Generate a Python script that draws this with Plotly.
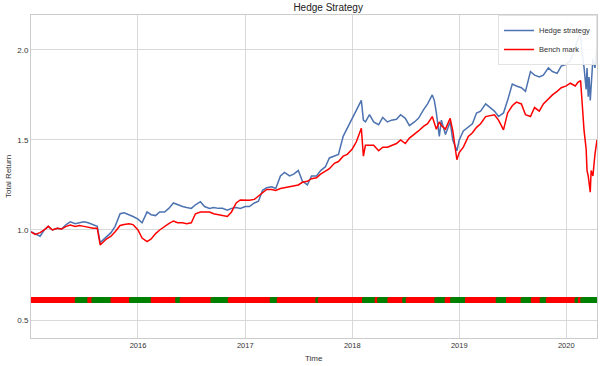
import pandas as pd
import plotly.graph_objects as go

# ---- data ----
hedge_dates = [
    "2015-01-01","2015-01-15","2015-02-01","2015-02-15","2015-03-01","2015-03-15","2015-04-01","2015-04-15",
    "2015-05-01","2015-05-15","2015-06-01","2015-06-15","2015-07-01","2015-07-15","2015-08-01","2015-08-15",
    "2015-08-25","2015-09-15","2015-10-01","2015-10-15","2015-11-01","2015-11-15","2015-12-01","2015-12-15",
    "2016-01-01","2016-01-15","2016-02-01","2016-02-15","2016-03-01","2016-03-15","2016-04-01","2016-04-15",
    "2016-05-01","2016-05-15","2016-06-01","2016-06-15","2016-07-01","2016-07-15","2016-08-01","2016-08-15",
    "2016-09-01","2016-09-15","2016-10-01","2016-10-15","2016-11-01","2016-11-15","2016-12-01","2016-12-15",
    "2017-01-01","2017-01-15","2017-02-01","2017-02-15","2017-03-01","2017-03-15","2017-04-01","2017-04-15",
    "2017-05-01","2017-05-15","2017-06-01","2017-06-15","2017-07-01","2017-07-15","2017-08-01","2017-08-15",
    "2017-09-01","2017-09-15","2017-10-01","2017-10-15","2017-11-01","2017-11-15","2017-12-01","2017-12-15",
    "2018-01-01","2018-01-15","2018-02-01","2018-02-08","2018-02-15","2018-03-01","2018-03-15","2018-04-01",
    "2018-04-15","2018-05-01","2018-05-15","2018-06-01","2018-06-15","2018-07-01","2018-07-15","2018-08-01",
    "2018-08-15","2018-09-01","2018-09-15","2018-10-01","2018-10-08","2018-10-15","2018-10-25","2018-11-01",
    "2018-11-15","2018-12-01","2018-12-10","2018-12-24","2019-01-01","2019-01-15","2019-02-01","2019-02-15",
    "2019-03-01","2019-03-15","2019-04-01","2019-04-15","2019-05-01","2019-05-15","2019-06-01","2019-06-15",
    "2019-07-01","2019-07-15","2019-08-01","2019-08-15","2019-09-01","2019-09-15","2019-10-01","2019-10-15",
    "2019-11-01","2019-11-15","2019-12-01","2019-12-15","2020-01-01","2020-01-15","2020-02-01","2020-02-10",
    "2020-02-19","2020-02-24","2020-03-02","2020-03-09","2020-03-12","2020-03-16","2020-03-19","2020-03-23",
    "2020-03-26","2020-04-01","2020-04-08","2020-04-15",
]
hedge_values = [
    0.99, 0.98, 0.965, 1.00, 1.02, 1.00, 1.01, 1.005,
    1.03, 1.045, 1.035, 1.04, 1.045, 1.04, 1.03, 1.02,
    0.93, 0.96, 0.985, 1.02, 1.09, 1.095, 1.085, 1.075,
    1.06, 1.04, 1.10, 1.085, 1.08, 1.10, 1.10, 1.12,
    1.15, 1.14, 1.13, 1.125, 1.12, 1.14, 1.157, 1.13,
    1.12, 1.125, 1.12, 1.12, 1.11, 1.12, 1.125, 1.12,
    1.13, 1.13, 1.15, 1.16, 1.22, 1.235, 1.24, 1.23,
    1.30, 1.32, 1.30, 1.31, 1.33, 1.27, 1.25, 1.30,
    1.30, 1.33, 1.35, 1.40, 1.41, 1.42, 1.52, 1.565,
    1.62, 1.67, 1.72, 1.61, 1.60, 1.64, 1.60, 1.585,
    1.625, 1.60, 1.61, 1.615, 1.64, 1.62, 1.58, 1.60,
    1.62, 1.667, 1.70, 1.75, 1.72, 1.65, 1.52, 1.61,
    1.53, 1.60, 1.50, 1.44, 1.50, 1.55, 1.57, 1.59,
    1.65, 1.66, 1.70, 1.68, 1.66, 1.63, 1.65, 1.72,
    1.81, 1.80, 1.79, 1.77, 1.88, 1.86, 1.85, 1.86,
    1.90, 1.88, 1.87, 1.91, 1.92, 1.94, 2.02, 2.07,
    2.10, 1.98, 1.90, 1.78, 1.90, 1.74, 1.85, 1.72,
    1.82, 1.95, 1.90, 2.03,
]

bench_dates = hedge_dates
bench_values = [
    0.99, 0.975, 0.985, 1.00, 1.02, 1.00, 1.01, 1.005,
    1.02, 1.028, 1.02, 1.025, 1.02, 1.015, 1.01, 1.01,
    0.917, 0.95, 0.965, 0.99, 1.025, 1.03, 1.035, 1.03,
    1.00, 0.955, 0.935, 0.95, 0.98, 1.00, 1.02, 1.035,
    1.05, 1.04, 1.04, 1.035, 1.04, 1.09, 1.10, 1.10,
    1.10, 1.09, 1.085, 1.083, 1.075, 1.10, 1.15, 1.167,
    1.165, 1.165, 1.17, 1.19, 1.21, 1.225, 1.225, 1.22,
    1.23, 1.235, 1.24, 1.245, 1.25, 1.265, 1.27, 1.285,
    1.29, 1.31, 1.325, 1.34, 1.37, 1.38, 1.41, 1.42,
    1.45, 1.49, 1.565, 1.41, 1.47, 1.47, 1.47, 1.44,
    1.46, 1.46, 1.47, 1.48, 1.50, 1.48, 1.51, 1.53,
    1.55, 1.575, 1.59, 1.63, 1.60, 1.56, 1.60, 1.58,
    1.56, 1.62, 1.55, 1.39, 1.43, 1.46, 1.52, 1.54,
    1.57, 1.59, 1.63, 1.635, 1.64, 1.61, 1.556, 1.65,
    1.69, 1.71, 1.70, 1.64, 1.63, 1.68, 1.66, 1.70,
    1.73, 1.75, 1.77, 1.79, 1.80, 1.815, 1.80, 1.82,
    1.83, 1.70, 1.55, 1.45, 1.33, 1.30, 1.25, 1.21,
    1.33, 1.30, 1.42, 1.50,
]

# signal band: periods where the signal is "green" (otherwise red)
signal_level = 0.61
signal_start = "2015-01-01"
signal_end = "2020-04-15"
green_starts = ["2015-06-07","2015-08-04","2015-12-10","2016-05-16","2016-09-13","2017-04-02",
                "2017-09-06","2018-02-10","2018-04-05","2018-06-29","2018-10-17","2018-12-10",
                "2019-05-14","2019-08-07","2019-10-11","2020-02-07","2020-02-27"]
green_ends   = ["2015-07-20","2015-10-07","2016-02-21","2016-05-30","2016-11-10","2017-04-26",
                "2017-09-13","2018-03-26","2018-05-09","2018-07-10","2018-11-20","2019-01-28",
                "2019-06-17","2019-09-10","2019-10-31","2020-02-17","2020-04-15"]

y_ticks = [0.5, 1.0, 1.5, 2.0]
y_tick_labels = ["0.5", "1.0", "1.5", "2.0"]
x_ticks = ["2016-01-01", "2017-01-01", "2018-01-01", "2019-01-01", "2020-01-01"]
x_tick_labels = ["2016", "2017", "2018", "2019", "2020"]

# ---- build the signal markers ----
days = pd.bdate_range(signal_start, signal_end)
colors = []
for d in days:
    g = any(pd.Timestamp(s) <= d <= pd.Timestamp(e) for s, e in zip(green_starts, green_ends))
    colors.append("green" if g else "red")

fig = go.Figure()
fig.add_trace(go.Scatter(
    x=hedge_dates, y=hedge_values, mode="lines", name="Hedge strategy",
    line=dict(color="#4c72b0", width=1.5)))
fig.add_trace(go.Scatter(
    x=bench_dates, y=bench_values, mode="lines", name="Bench mark",
    line=dict(color="red", width=1.5)))
fig.add_trace(go.Scatter(
    x=days, y=[signal_level] * len(days), mode="markers", showlegend=False,
    marker=dict(symbol="square", size=5, color=colors, line=dict(width=0))))

fig.update_layout(
    width=602, height=366,
    margin=dict(l=31, r=5, t=15, b=28, autoexpand=False),
    paper_bgcolor="white", plot_bgcolor="white",
    font=dict(family="Liberation Sans, Arial, sans-serif", size=8, color="#333333"),
    title=dict(text="Hedge Strategy", x=0.525, xanchor="center", xref="paper",
               y=0.99, yanchor="top", yref="container",
               font=dict(size=10, color="#222222")),
    legend=dict(x=1.0, y=1.0, xanchor="right", yanchor="top",
                bgcolor="rgba(255,255,255,0.9)", bordercolor="#e3e3e3", borderwidth=1,
                font=dict(size=7.5, color="#333333"), itemwidth=30, tracegroupgap=0),
    showlegend=True,
    annotations=[
        dict(text="Total Return", x=0, xref="paper", xanchor="right", xshift=-16,
             y=0.5, yref="paper", yanchor="middle", textangle=-90,
             showarrow=False, font=dict(size=8, color="#333333")),
        dict(text="Time", x=0.5, xref="paper", xanchor="center",
             y=0, yref="paper", yanchor="top", yshift=-14,
             showarrow=False, font=dict(size=8, color="#333333")),
    ],
)
fig.update_xaxes(
    range=["2015-01-01", "2020-04-15"], automargin=False,
    tickvals=x_ticks, ticktext=x_tick_labels,
    showgrid=True, gridcolor="#d9d9d9", gridwidth=1,
    showline=True, linecolor="#cccccc", linewidth=1, mirror=True,
    ticks="", zeroline=False, tickfont=dict(size=7.5),
)
fig.update_yaxes(
    range=[0.4, 2.194], automargin=False,
    tickvals=y_ticks, ticktext=y_tick_labels,
    showgrid=True, gridcolor="#d9d9d9", gridwidth=1,
    showline=True, linecolor="#cccccc", linewidth=1, mirror=True,
    ticks="", zeroline=False, tickfont=dict(size=8),
)

fig.write_html("out.html", config={"displayModeBar": False},
               post_script="document.body.style.margin='0';document.body.style.overflow='hidden';")
